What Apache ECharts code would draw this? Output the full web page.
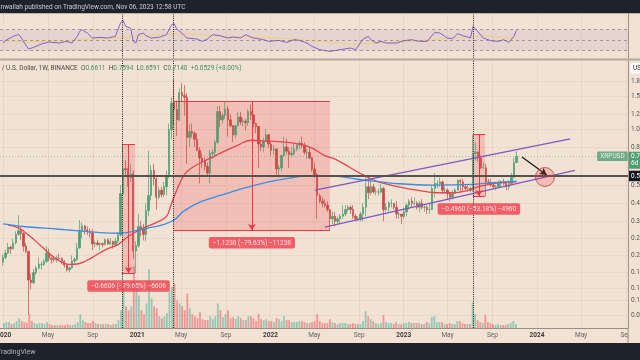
<!DOCTYPE html>
<html><head><meta charset="utf-8">
<script src="https://cdn.jsdelivr.net/npm/echarts@6/dist/echarts.min.js"></script>
<style>html,body{margin:0;padding:0;background:#f2e2d3}#c{width:640px;height:360px}</style>
</head><body><div id="c"></div>
<script>
// ---------- data ----------
const symbolName = 'XRP / U.S. Dollar, 1W, BINANCE';
const publishedText = 'inwallah published on TradingView.com, Nov 06, 2023 12:58 UTC';
const firstWeekUTC = Date.UTC(2019, 11, 30); // weekly candles, Mondays

const weekOpen = [
.193,.205,.216,.232,.228,.245,.273,.285,.275,.235,
.221,.155,.150,.170,.180,.188,.188,.195,.216,.203,
.200,.199,.203,.202,.196,.186,.176,.180,.196,.200,
.230,.285,.302,.287,.283,.277,.242,.245,.240,.243,
.240,.255,.242,.249,.240,.250,.270,.450,.612,.605,
.545,.575,.222,
.237,.300,.290,.272,.365,.440,.600,.540,.430,.470,
.445,.490,.560,.990,1.38,1.27,1.12,1.57,1.51,1.48,
.900,.970,.950,.880,.770,.700,.670,.630,.580,.740,
.750,.850,1.24,1.12,1.18,1.28,1.12,1.04,.930,1.04,
1.16,1.09,1.10,1.08,1.24,1.19,1.07,1.03,.830,.800,
.860,.930,
.830,.770,.780,.610,.620,.720,.800,.760,.730,.740,
.780,.820,.840,.820,.750,.750,.700,.610,.570,.440,
.410,.400,.390,.370,.330,.340,.320,.330,.340,.350,
.370,.380,.370,.340,.330,.330,.350,.380,.490,.455,
.490,.460,.460,.460,.480,.370,.380,.400,.400,.380,
.350,.350,
.340,.360,.390,.410,.400,.400,.380,.400,.380,.380,
.370,.370,.480,.510,.510,.520,.470,.470,.450,.430,
.450,.470,.530,.520,.490,.480,.480,.470,.740,.750,
.700,.620,.620,.520,.510,.500,.490,.490,.510,.520,
.510,.490,.510,.550,.6611];
const weekClose = [
.205,.216,.232,.228,.245,.273,.285,.275,.235,.221,
.155,.150,.170,.180,.188,.188,.195,.216,.203,.200,
.199,.203,.202,.196,.186,.176,.180,.196,.200,.230,
.285,.302,.287,.283,.277,.242,.245,.240,.243,.240,
.255,.242,.249,.240,.250,.270,.450,.612,.605,.545,
.575,.222,.237,
.300,.290,.272,.365,.440,.600,.540,.430,.470,.445,
.490,.560,.990,1.38,1.27,1.12,1.57,1.51,1.48,.900,
.970,.950,.880,.770,.700,.670,.630,.580,.740,.750,
.850,1.24,1.12,1.18,1.28,1.12,1.04,.930,1.04,1.16,
1.09,1.10,1.08,1.24,1.19,1.07,1.03,.830,.800,.860,
.930,.830,
.770,.780,.610,.620,.720,.800,.760,.730,.740,.780,
.820,.840,.820,.750,.750,.700,.610,.570,.440,.410,
.400,.390,.370,.330,.340,.320,.330,.340,.350,.370,
.380,.370,.340,.330,.330,.350,.380,.490,.455,.490,
.460,.460,.460,.480,.370,.380,.400,.400,.380,.350,
.350,.340,
.360,.390,.410,.400,.400,.380,.400,.380,.380,.370,
.370,.480,.510,.510,.520,.470,.470,.450,.430,.450,
.470,.530,.520,.490,.480,.480,.470,.740,.750,.700,
.620,.620,.520,.510,.500,.490,.490,.510,.520,.510,
.490,.510,.550,.6611,.7140];
const weekHigh = [
.212,.225,.245,.237,.258,.283,.345,.300,.280,.245,
.222,.168,.178,.185,.205,.195,.200,.235,.228,.206,
.205,.210,.215,.205,.198,.190,.184,.210,.205,.245,
.325,.315,.305,.300,.293,.290,.252,.255,.247,.246,
.258,.259,.260,.252,.260,.280,.500,.829,.680,.620,
.650,.600,.250,
.350,.320,.310,.400,.765,.640,.650,.560,.490,.490,
.520,.600,1.07,1.48,1.84,1.42,1.65,1.76,1.72,1.56,
1.06,1.07,.970,.950,.800,.740,.700,.660,.770,.780,
.870,1.33,1.33,1.22,1.41,1.33,1.20,1.05,1.05,1.24,
1.23,1.14,1.13,1.28,1.35,1.20,1.08,1.04,.860,.900,
1.00,.940,
.850,.820,.790,.640,.730,.910,.890,.800,.800,.840,
.840,.860,.910,.850,.780,.800,.710,.660,.580,.450,
.430,.420,.410,.370,.360,.360,.340,.350,.390,.390,
.390,.390,.390,.350,.340,.360,.400,.550,.560,.540,
.510,.480,.480,.510,.490,.400,.410,.420,.400,.410,
.360,.350,
.380,.400,.420,.430,.430,.410,.410,.420,.390,.390,
.400,.500,.580,.530,.550,.530,.490,.480,.460,.470,
.480,.540,.540,.540,.500,.500,.490,.9327,.850,.760,
.720,.660,.650,.540,.540,.510,.500,.530,.530,.540,
.520,.530,.580,.700,.7594];
const weekLow = [
.185,.200,.214,.214,.226,.240,.268,.255,.220,.215,
.101,.138,.147,.165,.176,.176,.184,.192,.195,.190,
.193,.192,.197,.188,.181,.172,.170,.178,.190,.195,
.228,.260,.272,.270,.262,.225,.232,.236,.225,.232,
.238,.240,.238,.228,.235,.244,.265,.440,.560,.490,
.520,.200,.169,
.230,.265,.253,.250,.340,.415,.500,.370,.420,.430,
.430,.440,.545,.880,1.05,.920,1.10,1.40,1.18,.650,
.800,.900,.800,.760,.510,.620,.600,.560,.510,.690,
.700,.830,1.02,1.07,1.13,.910,1.02,.850,.890,1.03,
1.05,1.03,.980,1.04,1.12,1.02,.950,.620,.760,.750,
.860,.790,
.720,.730,.560,.550,.590,.710,.730,.620,.710,.720,
.760,.780,.790,.730,.690,.690,.590,.550,.330,.400,
.380,.380,.360,.2875,.310,.300,.310,.310,.330,.340,
.360,.350,.330,.320,.320,.320,.320,.340,.420,.440,
.450,.440,.440,.450,.320,.360,.360,.380,.370,.330,
.330,.310,
.330,.340,.370,.380,.390,.370,.360,.370,.360,.350,
.350,.370,.430,.480,.490,.450,.450,.420,.410,.420,
.450,.470,.460,.460,.470,.460,.460,.460,.680,.670,
.610,.610,.4367,.500,.490,.480,.470,.490,.490,.500,
.470,.470,.500,.550,.6591];
const weekVolume = [
5,6,6,4,5,7,10,7,6,5,
14,7,5,4,5,5,4,6,4,3,
3,3,3,3,3,4,3,3,4,6,
14,8,6,5,5,7,5,4,4,4,
4,4,3,4,4,8,18,40,22,18,
22,63,41,
33,18,14,25,60,30,22,20,12,10,
12,15,38,42,45,28,25,22,18,35,
20,14,12,10,16,9,8,8,12,9,
12,25,18,11,14,18,10,11,9,12,
10,8,8,12,12,10,7,14,9,8,
9,7,
7,6,10,9,7,12,8,8,6,6,
6,7,7,6,5,5,6,7,14,7,
5,5,5,9,6,5,4,5,5,5,
4,4,5,4,4,4,7,17,12,9,
7,5,4,5,13,6,5,5,4,6,
4,4,
5,5,6,5,5,5,5,4,4,6,
5,11,12,6,6,6,4,4,5,4,
4,7,7,5,4,4,4,26,14,8,
6,5,13,6,5,4,3,4,3,3,
3,4,5,7,4];

// moving averages (at a few weeks)
const maRedWeek = [2,6,10,15,20,26,30,35,40,45,49,54,60,64,66,68,71,74,78,85,92,97,104,110,116,121,126,130,136,141,147,155,162,170,176,181,186,192,201];
const maRedValue = [.305,.295,.27,.235,.205,.188,.19,.205,.225,.24,.265,.29,.315,.34,.40,.47,.57,.62,.665,.74,.82,.87,.86,.85,.83,.79,.72,.69,.62,.567,.52,.49,.47,.455,.455,.465,.49,.51,.52];
const maBlueWeek = [0,8,22,38,46,52,57,62,67,71,78,85,94,104,112,120,128,136,142,154,168,184,192,201];
const maBlueValue = [.31,.30,.29,.278,.276,.285,.295,.305,.325,.365,.41,.44,.48,.52,.545,.56,.56,.545,.53,.51,.50,.505,.515,.525];

// RSI pane
const rsiWeek = [0,1,4,6,7,9,10,12,15,18,22,25,27,29,30,31,33,35,38,41,44,46,47,48,50,51,52,53,55,56,58,61,64,66,67,68,70,72,76,78,80,82,85,88,90,93,95,98,102,104,108,111,114,116,119,121,124,128,132,136,138,141,143,144,146,148,150,154,157,160,163,166,169,171,174,176,178,180,182,183,184,185,188,191,194,196,198,200,201];
const rsiValue = [44.3,49.3,56.8,60.5,55.5,40,33.1,36.2,42.5,46.2,44.3,47.4,44.3,56,66.1,69.3,63,53.7,54.9,53.7,56.8,81.7,86.6,75.4,72,47.4,44.3,59.9,63,58,53.7,54.9,59.9,78.6,80.5,70.5,63,53.7,51.8,47.4,51.8,59.9,58,53.7,55.5,53.7,59.9,53.7,50.6,47.4,49.3,45.6,50.6,49.3,44.3,38,31.9,28.7,31.9,35,31.9,51.8,56.8,50.6,44.3,47.4,44.3,44.3,48.7,50.6,47.4,47.4,64.2,63,53.7,52.4,61.8,58,55.5,53.7,75.4,70.5,53.7,48.7,47.4,50.6,45.6,56.8,68.1];
const rsiMaWeek = [0,12,25,34,45,54,63,70,78,85,97,108,116,124,131,137,144,150,157,163,170,176,183,188,193,201];
const rsiMaValue = [46.2,46.8,48.7,51.5,54,57.5,60,61.5,59.5,57.5,55.5,53.5,51,47.4,44.5,42,43.8,45,46.8,48.7,51,53.7,55.5,57.5,55.5,53.5];
const rsiLevels = [70, 50, 30];
const rsiTicks = [80, 40];

// axes ticks
const xTickDates = ['2020-01-01','2020-05-01','2020-09-01','2021-01-01','2021-05-01','2021-09-01','2022-01-01','2022-05-01','2022-09-01','2023-01-01','2023-05-01','2023-09-01','2024-01-01','2024-05-01','2024-09-01'];
const xTickLabels = ['2020','May','Sep','2021','May','Sep','2022','May','Sep','2023','May','Sep','2024','May','Sep'];
const yTicks = [1.8,1.5,1.2,1.0,0.8,0.5,0.4,0.32,0.26,0.21,0.17,0.14,0.115,0.095];

// drawings
const markerDates = ['2020-11-20','2021-04-09','2023-07-10'];
const rangeStart = ['2020-11-20','2021-04-09','2023-07-10'];
const rangeEnd = ['2020-12-26','2022-06-13','2023-08-12'];
const rangeMid = ['2020-12-08','2021-11-11','2023-07-26'];
const rangeTop = [0.8294, 1.4113, 0.9327];
const rangeBottom = [0.1688, 0.2875, 0.4367];
const channelUpperDates = ['2022-05-03','2024-04-01'];
const channelUpperValues = [0.47, 0.884];
const channelLowerDates = ['2022-05-30','2024-04-14'];
const channelLowerValues = [0.298, 0.60];
const supportLevel = 0.555;
const trendArrowDates = ['2023-11-21','2024-01-28'];
const trendArrowValues = [0.708, 0.567];
const circleDate = '2024-01-23';
const circleValue = 0.553;
const symbolLabelDate = '2024-07-26';
const countdownText = '6d 11h';

// ---------- chart ----------
const DAY = 864e5;
const FONT = 'Roboto, "Liberation Sans", Arial, sans-serif';
const UP = '#4f9e74', DOWN = '#cc4843';
const UPV = 'rgba(34,171,148,0.45)', DOWNV = 'rgba(242,54,69,0.45)';
const toT = s => Date.parse(s + 'T00:00:00Z');
const axisMin = Date.UTC(2019, 11, 21, 20);
const axisMax = Date.UTC(2024, 8, 6, 14);

const weekTime = weekOpen.map((_, i) => firstWeekUTC + i * 7 * DAY);
const candleData = weekOpen.map((o, i) => [weekTime[i], o, weekClose[i], weekLow[i], weekHigh[i]]);
const volData = weekVolume.map((v, i) => ({value: [weekTime[i], v], itemStyle: {color: weekClose[i] >= weekOpen[i] ? UPV : DOWNV}}));
const pts = (weeks, vals) => weeks.map((w, i) => [weekTime[w], vals[i]]);
const xTickTimes = xTickDates.map(toT);
const last = weekOpen.length - 1;
const lastClose = weekClose[last];
const prevClose = weekClose[last - 1];
const f4 = v => v.toFixed(4);
const minus = s => s.replace(/-/g, '\u2212');

function rangeText(i) {
  const d = rangeBottom[i] - rangeTop[i];
  const p = d / rangeTop[i] * 100;
  return minus(d.toFixed(4) + ' (' + p.toFixed(2) + '%) ' + Math.round(d * 10000));
}

const chg = lastClose - prevClose;
const headerText = '{n|' + symbolName + '}  {k|O}{v|' + f4(weekOpen[last]) + '}  {k|H}{v|' + f4(weekHigh[last]) +
  '}  {k|L}{v|' + f4(weekLow[last]) + '}  {k|C}{v|' + f4(lastClose) + '}  {v|' + (chg >= 0 ? '+' : '') + f4(chg) +
  ' (' + (chg >= 0 ? '+' : '') + (chg / prevClose * 100).toFixed(2) + '%)}';

const dotted = {color: '#1c1c1c', width: 1, type: [1, 1.2]};
const gridLine = {color: 'rgba(110,85,60,0.07)', width: 1, type: 'solid'};
const xBase = (gi, extra) => Object.assign({
  type: 'time', gridIndex: gi, min: axisMin, max: axisMax,
  axisLine: {show: false}, axisTick: {show: false}, axisLabel: {show: false}, splitLine: {show: false}
}, extra || {});

const xLabelItems = xTickTimes.map((t, i) => {
  const txt = xTickLabels[i];
  const isYear = /^\d+$/.test(txt);
  return {xAxis: t, lineStyle: gridLine,
    label: {show: true, position: 'start', distance: 4, formatter: isYear ? '{y|' + txt + '}' : '{m|' + txt + '}',
      rich: {y: {fontWeight: 'bold', color: '#3b3b3b', fontSize: 6.5, fontFamily: FONT},
             m: {color: '#666', fontSize: 6.5, fontFamily: FONT}}}};
});

const option = {
  backgroundColor: '#f2e2d3',
  animation: false,
  textStyle: {fontFamily: FONT},
  grid: [
    {left: 0, right: 12, top: 14, height: 44.5},
    {left: 0, right: 12, top: 60.5, bottom: 32},
    {left: 0, right: 12, top: 262, bottom: 32}
  ],
  xAxis: [
    xBase(0),
    xBase(1, {axisLine: {show: true, onZero: false, lineStyle: {color: '#978d85', width: 1}}}),
    xBase(2)
  ],
  yAxis: [
    {type: 'value', gridIndex: 0, position: 'right', min: 15.4, max: 98.6,
     axisLine: {show: true, lineStyle: {color: '#9d948c'}}, axisTick: {show: false}, splitLine: {show: false},
     axisLabel: {show: false}},
    {type: 'log', logBase: 10, gridIndex: 1, position: 'right', min: 0.0857, max: 2.329,
     axisLine: {show: true, lineStyle: {color: '#9d948c'}}, axisTick: {show: false}, axisLabel: {show: false}, splitLine: {show: false}},
    {type: 'value', gridIndex: 2, min: 0, max: 67, show: false}
  ],
  series: [
    {type: 'bar', name: 'volume', xAxisIndex: 2, yAxisIndex: 2, data: volData, barWidth: 1.8, z: 1, silent: true},
    {type: 'scatter', name: 'grid', xAxisIndex: 1, yAxisIndex: 1, z: 1, silent: true, clip: false,
     data: [[weekTime[20], 1]], symbolSize: 0.1, itemStyle: {color: 'rgba(0,0,0,0)'},
     markLine: {silent: true, symbol: ['none', 'none'], animation: false,
       lineStyle: gridLine,
       label: {show: true, position: 'end', distance: 3, fontSize: 6.5, color: '#555', fontFamily: FONT},
       data: yTicks.map(v => ({yAxis: v, label: {formatter: f4(v)}})).concat(xLabelItems)}},
    {type: 'candlestick', name: 'XRPUSD', xAxisIndex: 1, yAxisIndex: 1, data: candleData,
     encode: {x: 0, y: [1, 2, 3, 4]}, barWidth: 1.9, z: 2, silent: true,
     itemStyle: {color: UP, color0: DOWN, borderColor: UP, borderColor0: DOWN, borderWidth: 0.7}},
    {type: 'line', name: 'MA red', xAxisIndex: 1, yAxisIndex: 1, data: pts(maRedWeek, maRedValue), smooth: 0.4,
     showSymbol: false, silent: true, z: 3, lineStyle: {color: '#e8434f', width: 1.3}},
    {type: 'line', name: 'MA blue', xAxisIndex: 1, yAxisIndex: 1, data: pts(maBlueWeek, maBlueValue), smooth: 0.4,
     showSymbol: false, silent: true, z: 3, lineStyle: {color: '#3a8ee6', width: 1.3}},
    {type: 'line', name: 'channel up', xAxisIndex: 1, yAxisIndex: 1,
     data: channelUpperDates.map((d, i) => [toT(d), channelUpperValues[i]]),
     showSymbol: false, silent: true, z: 4, lineStyle: {color: '#7e57c2', width: 1.3}},
    {type: 'line', name: 'channel low', xAxisIndex: 1, yAxisIndex: 1,
     data: channelLowerDates.map((d, i) => [toT(d), channelLowerValues[i]]),
     showSymbol: false, silent: true, z: 4, lineStyle: {color: '#7e57c2', width: 1.3}},
    {type: 'scatter', name: 'ranges', xAxisIndex: 1, yAxisIndex: 1, z: 5, silent: true, clip: false,
     symbolSize: 0.1, itemStyle: {color: 'rgba(0,0,0,0)'},
     data: rangeMid.map((d, i) => ({value: [toT(d), rangeBottom[i]], label: {formatter: rangeText(i)}})),
     label: {show: true, position: 'bottom', distance: 7, color: '#fff', backgroundColor: '#ef3f4e',
       borderRadius: 2, padding: [2.5, 4, 2, 4], fontSize: 6.5, fontFamily: FONT},
     markArea: {silent: true, itemStyle: {color: 'rgba(242,54,69,0.2)'},
       data: rangeStart.map((d, i) => [{coord: [toT(d), rangeTop[i]]}, {coord: [toT(rangeEnd[i]), rangeBottom[i]]}])},
     markLine: {silent: true, symbol: ['none', 'none'], label: {show: false},
       lineStyle: {color: '#f23645', width: 1, type: 'solid'},
       data: [].concat(
         ...rangeStart.map((d, i) => [
           [{coord: [toT(d), rangeTop[i]]}, {coord: [toT(rangeEnd[i]), rangeTop[i]]}],
           [{coord: [toT(d), rangeBottom[i]]}, {coord: [toT(rangeEnd[i]), rangeBottom[i]]}],
           [{coord: [toT(rangeMid[i]), rangeTop[i]], symbol: 'none'},
            {coord: [toT(rangeMid[i]), rangeBottom[i]], symbol: 'arrow', symbolSize: [6, 6]}]
         ]),
         markerDates.map(d => ({xAxis: toT(d), lineStyle: dotted}))
       )}},
    {type: 'scatter', name: 'target', xAxisIndex: 1, yAxisIndex: 1, z: 6, silent: true,
     data: [[toT(circleDate), circleValue]], symbolSize: 19,
     itemStyle: {color: 'rgba(242,54,69,0.28)', borderColor: '#b04a4c', borderWidth: 1},
     markLine: {silent: true, symbol: ['none', 'none'], label: {show: false},
       lineStyle: {color: '#1b1b1b', width: 1.3, type: 'solid'},
       data: [[{coord: [toT(trendArrowDates[0]), trendArrowValues[0]], symbol: 'none'},
               {coord: [toT(trendArrowDates[1]), trendArrowValues[1]], symbol: 'arrow', symbolSize: [6, 7]}]]}},
    {type: 'scatter', name: 'tags', xAxisIndex: 1, yAxisIndex: 1, z: 8, silent: true, clip: false,
     symbolSize: 0.1, itemStyle: {color: 'rgba(0,0,0,0)'},
     data: [{value: [toT(symbolLabelDate), lastClose],
       label: {show: true, formatter: 'XRPUSD', position: 'inside', color: '#fff', backgroundColor: UP,
         padding: [1.5, 3, 1, 3], fontSize: 6.5, borderRadius: 1, fontFamily: FONT}}],
     markLine: {silent: true, symbol: ['none', 'none'],
       data: [
         {yAxis: supportLevel, lineStyle: {color: '#57524d', width: 2, type: 'solid'},
          label: {show: true, position: 'end', distance: 1, formatter: f4(supportLevel), color: '#fff',
            backgroundColor: '#131722', padding: [2, 2, 1.5, 2], fontSize: 6.5, fontFamily: FONT}},
         {yAxis: lastClose, lineStyle: {color: 'rgba(79,158,116,0.55)', width: 1, type: [1, 2]},
          label: {show: true, position: 'end', distance: 1, formatter: f4(lastClose) + '\n' + countdownText,
            color: '#fff', backgroundColor: UP, padding: [1.5, 2, 1.5, 2], fontSize: 6.5, lineHeight: 7,
            offset: [0, 3.5], fontFamily: FONT}}
       ]}},
    {type: 'line', name: 'RSI', xAxisIndex: 0, yAxisIndex: 0, data: pts(rsiWeek, rsiValue), showSymbol: false,
     silent: true, z: 3, lineStyle: {color: '#8660c8', width: 1},
     markArea: {silent: true, itemStyle: {color: 'rgba(126,87,194,0.1)'}, data: [[{yAxis: 30}, {yAxis: 70}]]},
     markLine: {silent: true, symbol: ['none', 'none'], label: {show: false},
       data: rsiLevels.map(v => ({yAxis: v, lineStyle: {color: 'rgba(120,112,112,0.75)', width: 0.8, type: [3, 3]}}))
         .concat(xTickTimes.map(t => ({xAxis: t, lineStyle: gridLine})))
         .concat(markerDates.map(d => ({xAxis: toT(d), lineStyle: dotted})))}},
    {type: 'scatter', name: 'rsi scale', xAxisIndex: 0, yAxisIndex: 0, z: 1, silent: true, clip: false,
     data: [[weekTime[20], 50]], symbolSize: 0.1, itemStyle: {color: 'rgba(0,0,0,0)'},
     markLine: {silent: true, symbol: ['none', 'none'], lineStyle: {opacity: 0},
       label: {show: true, position: 'end', distance: 3, fontSize: 6.5, color: '#555', fontFamily: FONT},
       data: rsiTicks.map(v => ({yAxis: v, label: {formatter: v.toFixed(2)}}))}},
    {type: 'line', name: 'RSI MA', xAxisIndex: 0, yAxisIndex: 0, data: pts(rsiMaWeek, rsiMaValue), showSymbol: false,
     smooth: 0.4, silent: true, z: 2, lineStyle: {color: '#f0cf86', width: 1.2}}
  ],
  graphic: [
    {type: 'rect', z: 100, shape: {x: 0, y: 0, width: 640, height: 13.3}, style: {fill: '#1e222d'}},
    {type: 'text', z: 101, x: -1, y: 7, style: {text: publishedText, fill: '#c8ccd6', font: '6.5px ' + FONT, verticalAlign: 'middle'}},
    {type: 'rect', z: 100, shape: {x: 0, y: 58.6, width: 640, height: 1.8}, style: {fill: '#b3a89e'}},
    {type: 'text', z: 101, x: -12, y: 68.3, style: {text: headerText, font: '6.5px ' + FONT, verticalAlign: 'middle',
      rich: {n: {fill: '#4a4a4a', font: '6.5px ' + FONT}, k: {fill: '#4a4a4a', font: '6.5px ' + FONT}, v: {fill: '#3d8f6a', font: '6.5px ' + FONT}}}},
    {type: 'rect', z: 100, shape: {x: 630.5, y: 63, width: 14, height: 10.5, r: 2}, style: {fill: '#ffffff'}},
    {type: 'text', z: 101, x: 633, y: 68.3, style: {text: 'USD', fill: '#131722', font: '6.5px ' + FONT, verticalAlign: 'middle'}},
    {type: 'rect', z: 100, shape: {x: 628.5, y: 328.5, width: 12, height: 15}, style: {fill: '#f2e2d3'}},
    {type: 'line', z: 101, shape: {x1: 628, y1: 328, x2: 628, y2: 343}, style: {stroke: '#9d948c', lineWidth: 1}},
    {type: 'rect', z: 100, shape: {x: 0, y: 343, width: 640, height: 17}, style: {fill: '#1e222d'}},
    {type: 'text', z: 101, x: -3, y: 352, style: {text: 'TradingView', fill: '#b2b5be', font: '7px ' + FONT, verticalAlign: 'middle'}}
  ]
};

const chart = echarts.init(document.getElementById('c'), null, {width: 640, height: 360});
chart.setOption(option);
</script>
</body></html>
